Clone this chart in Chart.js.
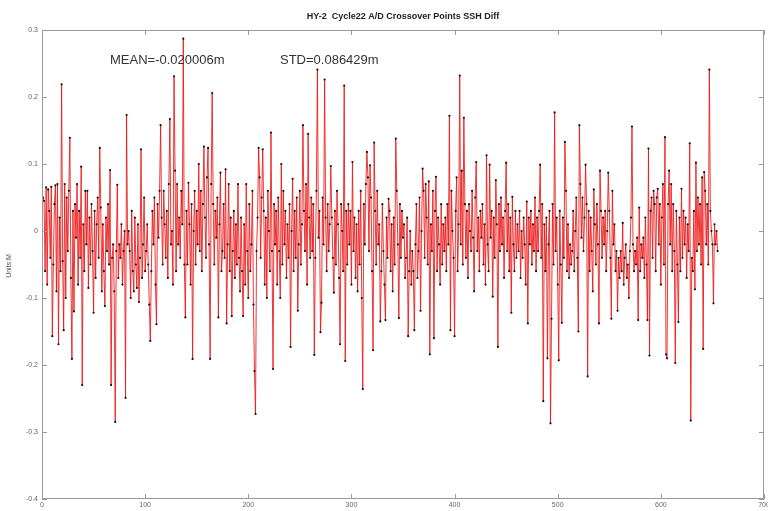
<!DOCTYPE html>
<html>
<head>
<meta charset="utf-8">
<script src="https://cdn.jsdelivr.net/npm/chart.js@4.4.0/dist/chart.umd.min.js"></script>
<style>
  html, body { margin: 0; padding: 0; background: #fff; }
  canvas { display: block; }
</style>
</head>
<body>
<canvas id="c" width="768" height="511"></canvas>
<script>
// SSH 差值（单位 m），按交叉点序号 1..655
const sshDiff = [
  0.050, 0.045, -0.060, 0.065, -0.080, 0.062, 0.030, -0.040, 0.066, -0.157,
  -0.050, 0.040, 0.068, -0.090, 0.070, -0.169, 0.020, -0.060, 0.219, -0.045,
  -0.148, 0.070, -0.100, 0.050, -0.030, 0.060, 0.139, -0.070, -0.191, 0.030,
  -0.120, 0.040, -0.010, 0.070, -0.080, 0.030, -0.040, 0.096, -0.230, 0.010,
  -0.060, 0.060, -0.020, 0.060, -0.085, 0.020, -0.050, 0.040, -0.030, -0.122,
  0.030, -0.070, 0.010, 0.050, -0.040, 0.124, 0.035, -0.090, 0.010, -0.060,
  -0.112, 0.020, -0.030, 0.040, -0.050, 0.091, -0.230, -0.040, -0.020, -0.090,
  -0.285, -0.030, 0.069, -0.070, -0.020, -0.040, 0.010, -0.080, -0.030, 0.000,
  -0.249, 0.173, -0.020, 0.000, -0.030, -0.100, 0.030, -0.060, -0.090, 0.020,
  -0.050, -0.085, 0.010, -0.106, -0.040, 0.122, -0.070, -0.020, 0.050, -0.060,
  -0.030, 0.010, -0.050, -0.110, -0.164, -0.060, 0.030, -0.020, 0.050, -0.080,
  -0.139, 0.040, -0.010, 0.060, 0.158, 0.020, -0.050, 0.060, 0.010, -0.040,
  0.030, -0.070, 0.070, 0.167, -0.020, 0.000, -0.080, 0.231, 0.090, -0.060,
  0.070, -0.020, 0.020, -0.040, 0.060, 0.010, 0.287, -0.050, -0.129, 0.030,
  -0.050, 0.072, 0.010, -0.080, 0.040, -0.191, 0.000, 0.060, -0.050, 0.030,
  -0.020, 0.100, -0.030, 0.060, -0.060, 0.040, 0.126, 0.020, -0.040, 0.080,
  0.124, -0.020, -0.191, 0.070, 0.206, 0.040, -0.050, 0.030, -0.010, 0.050,
  -0.129, 0.010, 0.087, -0.060, -0.030, 0.040, -0.040, 0.092, -0.138, -0.020,
  0.070, -0.060, 0.020, -0.127, -0.030, 0.030, -0.070, 0.010, -0.050, 0.070,
  -0.040, -0.090, 0.020, -0.060, -0.127, 0.010, -0.080, 0.070, -0.030, -0.100,
  0.040, -0.060, -0.020, 0.060, -0.110, -0.209, -0.273, -0.030, 0.020, 0.124,
  0.080, -0.040, 0.050, 0.122, 0.030, -0.080, 0.020, -0.100, 0.060, 0.000,
  -0.060, 0.147, -0.030, -0.206, 0.040, -0.020, 0.030, -0.080, 0.050, -0.030,
  -0.100, 0.100, -0.050, 0.060, -0.020, 0.030, -0.070, 0.010, -0.040, 0.040,
  -0.173, 0.000, 0.078, -0.060, 0.030, -0.040, 0.050, -0.119, -0.020, 0.060,
  -0.050, 0.010, 0.158, 0.030, -0.030, 0.070, -0.080, 0.145, 0.020, -0.040,
  0.050, -0.030, 0.040, -0.185, -0.040, 0.060, 0.241, -0.010, 0.030, -0.151,
  -0.107, 0.050, -0.020, 0.226, 0.020, -0.060, 0.040, -0.030, 0.010, 0.097,
  0.020, -0.040, -0.092, 0.030, -0.050, 0.060, 0.010, -0.070, -0.169, 0.040,
  0.000, -0.060, 0.217, -0.194, 0.030, -0.050, 0.040, -0.020, 0.030, -0.080,
  0.103, -0.030, 0.020, -0.070, 0.010, -0.090, 0.030, -0.050, 0.060, -0.100,
  -0.236, 0.040, -0.020, 0.070, 0.118, 0.080, -0.030, 0.098, 0.050, -0.060,
  -0.178, 0.132, 0.030, -0.050, 0.060, -0.020, 0.010, -0.135, -0.060, 0.040,
  -0.030, -0.080, -0.133, 0.020, -0.040, 0.048, 0.030, -0.060, 0.010, -0.090,
  0.020, -0.050, 0.138, 0.060, -0.020, -0.130, 0.040, -0.040, 0.030, -0.010,
  0.010, -0.070, -0.040, 0.020, -0.157, -0.060, 0.000, -0.080, -0.030, -0.060,
  -0.148, -0.020, 0.040, -0.070, -0.030, 0.050, -0.119, 0.000, 0.093, 0.060,
  -0.040, 0.070, 0.020, -0.050, 0.074, -0.184, 0.010, -0.030, 0.060, -0.160,
  0.030, 0.081, -0.060, 0.020, -0.020, -0.080, 0.040, -0.050, 0.010, -0.030,
  0.020, -0.060, 0.040, -0.020, 0.172, -0.148, 0.060, 0.000, -0.040, -0.157,
  0.030, 0.080, -0.060, 0.010, 0.232, -0.020, 0.090, -0.050, 0.169, 0.040,
  -0.040, 0.030, -0.070, 0.040, 0.000, -0.030, 0.060, -0.010, -0.090, 0.050,
  0.103, -0.030, 0.020, -0.060, 0.030, -0.010, 0.040, -0.050, 0.010, -0.080,
  0.113, -0.020, -0.060, 0.099, -0.010, 0.030, -0.098, 0.020, -0.040, 0.076,
  0.010, -0.173, 0.040, -0.030, 0.050, -0.020, 0.020, -0.070, 0.030, 0.102,
  -0.030, 0.040, -0.060, 0.020, -0.122, 0.051, -0.020, -0.060, 0.030, -0.040,
  0.010, -0.030, 0.030, -0.070, 0.000, -0.040, 0.020, -0.020, -0.080, 0.044,
  -0.138, 0.020, -0.020, 0.030, -0.050, 0.010, -0.030, 0.050, -0.060, 0.020,
  -0.030, 0.030, 0.099, -0.040, 0.040, -0.254, 0.010, -0.060, 0.020, -0.190,
  -0.020, 0.030, -0.287, -0.131, 0.040, -0.050, 0.177, -0.030, 0.020, -0.080,
  -0.193, 0.030, -0.050, -0.137, 0.020, -0.040, 0.133, 0.060, -0.060, 0.010,
  -0.070, -0.020, -0.050, -0.030, 0.030, -0.060, 0.000, 0.050, -0.040, -0.150,
  0.158, 0.070, -0.010, 0.050, -0.030, 0.020, 0.099, 0.040, -0.217, 0.030,
  -0.060, 0.020, -0.030, -0.090, 0.062, 0.010, -0.050, 0.040, -0.020, -0.138,
  0.090, 0.030, -0.040, 0.020, -0.020, 0.030, -0.060, 0.000, 0.087, 0.030,
  -0.040, -0.131, 0.060, -0.020, 0.010, -0.060, -0.030, -0.119, -0.040, -0.070,
  -0.030, -0.060, 0.012, -0.080, -0.040, -0.020, -0.070, -0.050, -0.100, -0.030,
  0.020, 0.156, -0.020, -0.060, -0.030, -0.050, -0.010, -0.133, 0.035, -0.060,
  -0.020, -0.040, -0.010, -0.070, 0.020, -0.050, -0.133, 0.123, -0.186, 0.030,
  0.050, -0.040, 0.060, 0.040, -0.060, 0.050, 0.063, -0.020, 0.040, -0.080,
  0.020, 0.070, -0.050, 0.140, -0.184, -0.190, 0.040, 0.090, -0.020, 0.070,
  -0.060, 0.040, -0.030, -0.197, 0.030, -0.050, -0.136, 0.020, -0.060, 0.063,
  -0.040, 0.030, -0.020, 0.020, -0.070, 0.010, -0.030, 0.131, -0.283, -0.040,
  -0.060, 0.030, -0.087, 0.102, -0.030, 0.050, -0.020, 0.040, -0.050, 0.080,
  -0.176, 0.088, 0.060, -0.020, 0.040, -0.050, 0.241, 0.030, 0.000, -0.020,
  -0.108, 0.010, -0.020, 0.000, -0.030
];
const xTicks = [0, 100, 200, 300, 400, 500, 600, 700];
const yTicks = [-0.4, -0.3, -0.2, -0.1, 0, 0.1, 0.2, 0.3];
const titleText = "HY-2  Cycle22 A/D Crossover Points SSH Diff";
const meanText = "MEAN=-0.020006m";
const stdText = "STD=0.086429m";
const yLabel = "Units:M";

// 边框 + 内向刻度 + 文字（MATLAB 风格）
const boxPlugin = {
  id: "box",
  afterDraw(chart) {
    const { ctx, chartArea: a, scales } = chart;
    ctx.save();
    ctx.strokeStyle = "#9a9a9a";
    ctx.lineWidth = 1;
    ctx.strokeRect(a.left + 0.5, a.top + 0.5, a.right - a.left - 1, a.bottom - a.top - 1);
    ctx.beginPath();
    xTicks.forEach(v => {
      const px = Math.round(scales.x.getPixelForValue(v)) + 0.5;
      ctx.moveTo(px, a.bottom); ctx.lineTo(px, a.bottom - 5);
      ctx.moveTo(px, a.top); ctx.lineTo(px, a.top + 5);
    });
    yTicks.forEach(v => {
      const py = Math.round(scales.y.getPixelForValue(v)) + 0.5;
      ctx.moveTo(a.left, py); ctx.lineTo(a.left + 5, py);
      ctx.moveTo(a.right, py); ctx.lineTo(a.right - 5, py);
    });
    ctx.stroke();

    ctx.fillStyle = "#222";
    ctx.font = "bold 9px Arial, 'Liberation Sans', sans-serif";
    ctx.textAlign = "center";
    ctx.textBaseline = "middle";
    ctx.fillText(titleText, (a.left + a.right) / 2, 17);

    ctx.fillStyle = "#333";
    ctx.font = "13px Arial, 'Liberation Sans', sans-serif";
    ctx.textAlign = "left";
    ctx.textBaseline = "alphabetic";
    ctx.fillText(meanText, 110, 64);
    ctx.fillText(stdText, 280, 64);

    ctx.fillStyle = "#555";
    ctx.font = "7px Arial, 'Liberation Sans', sans-serif";
    ctx.translate(9, 266);
    ctx.rotate(-Math.PI / 2);
    ctx.textAlign = "center";
    ctx.textBaseline = "middle";
    ctx.fillText(yLabel, 0, 0);
    ctx.restore();
  }
};

new Chart(document.getElementById("c"), {
  type: "line",
  data: {
    datasets: [{
      data: sshDiff.map((v, i) => ({ x: i + 1, y: v })),
      borderColor: "rgba(235,20,20,0.85)",
      borderWidth: 1,
      pointRadius: 1.1,
      pointBackgroundColor: "#111",
      pointBorderColor: "#111",
      pointBorderWidth: 0,
      tension: 0
    }]
  },
  options: {
    responsive: false,
    animation: false,
    devicePixelRatio: 1,
    layout: { padding: { top: 30, right: 1, left: 0, bottom: 0 } },
    plugins: { legend: { display: false }, tooltip: { enabled: false } },
    scales: {
      x: {
        type: "linear",
        min: 0, max: 700,
        afterBuildTicks: s => { s.ticks = xTicks.map(v => ({ value: v })); },
        afterFit: s => { s.height = 12; s.paddingLeft = 0; s.paddingRight = 0; },
        grid: { display: false, drawTicks: false },
        border: { display: false },
        ticks: { font: { size: 7 }, color: "#666", padding: 2, maxRotation: 0 }
      },
      y: {
        min: -0.4, max: 0.3,
        afterBuildTicks: s => { s.ticks = yTicks.map(v => ({ value: v })); },
        afterFit: s => { s.width = 42; },
        grid: { display: false, drawTicks: false },
        border: { display: false },
        ticks: { font: { size: 7 }, color: "#666", padding: 4 }
      }
    }
  },
  plugins: [boxPlugin]
});
</script>
</body>
</html>
